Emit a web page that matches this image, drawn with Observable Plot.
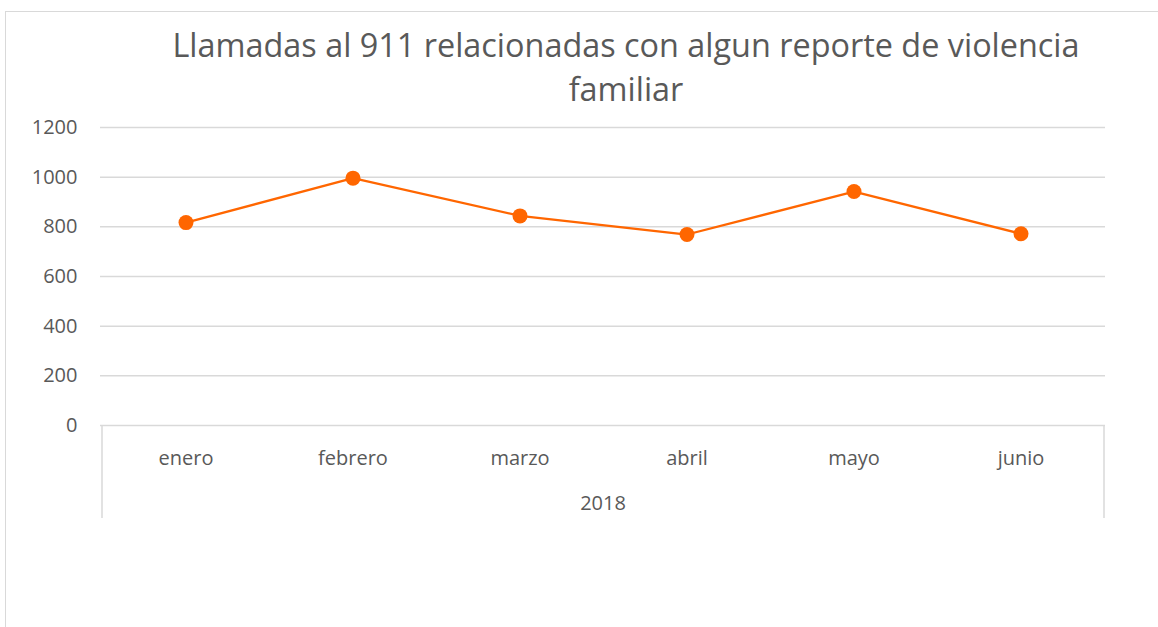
<!DOCTYPE html>
<html>
<head>
<meta charset="utf-8">
<script src="https://cdn.jsdelivr.net/npm/d3@7"></script>
<script src="https://cdn.jsdelivr.net/npm/@observablehq/plot@0.6"></script>
<style>
  html, body { margin: 0; padding: 0; background: #fff; }
  #wrap { position: relative; width: 1158px; height: 627px; overflow: hidden; font-family: "Open Sans", sans-serif; }
  #frame { position: absolute; left: 5px; top: 11px; width: 1200px; height: 700px; border-left: 1px solid #d9d9d9; border-top: 1px solid #d9d9d9; }
  #title { position: absolute; left: 94px; right: 0; top: 22px; text-align: center; font-size: 32.4px; line-height: 44px; color: #595959; font-weight: 400; white-space: nowrap; }
  #chart { position: absolute; left: 0; top: 110px; }
</style>
</head>
<body>
<div id="wrap">
  <div id="frame"></div>
  <div id="title">Llamadas al 911 relacionadas con algun reporte de violencia<br>familiar</div>
  <div id="chart"></div>
</div>
<script>
const months = ["enero", "febrero", "marzo", "abril", "mayo", "junio"];
const calls = [817, 996, 844, 769, 942, 772];
const yTicks = [0, 200, 400, 600, 800, 1000, 1200];
const yearLabel = "2018";

const data = months.map((m, i) => ({month: m, value: calls[i]}));
const orange = "#ff6600";
const grey = "#595959";
const fs = 20;

const plot = Plot.plot({
  width: 1158,
  height: 517,
  marginTop: 17,
  marginBottom: 202,
  marginLeft: 100,
  marginRight: 53,
  style: {fontFamily: "'Open Sans', sans-serif", fontSize: fs + "px", color: grey, background: "transparent"},
  x: {type: "band", domain: months, padding: 0, label: null},
  y: {domain: [0, 1200], label: null},
  marks: [
    Plot.ruleY(yTicks, {stroke: "#d9d9d9", strokeWidth: 1.5}),
    Plot.axisY({ticks: yTicks, tickFormat: d => String(d), tickSize: 0, tickPadding: 23, fontSize: fs, fill: grey, label: null}),
    Plot.axisX({tickSize: 0, tickPadding: 25, fontSize: fs, fill: grey, label: null}),
    Plot.line(data, {x: "month", y: "value", stroke: orange, strokeWidth: 2.25}),
    Plot.dot(data, {x: "month", y: "value", r: 7.5, fill: orange, stroke: "none"}),
    Plot.text([yearLabel], {frameAnchor: "bottom", dy: 84, fontSize: fs, fill: grey})
  ]
});

document.getElementById("chart").appendChild(plot);

// separator lines of the category axis, positioned from the x scale
const xs = plot.scale("x");
const ysc = plot.scale("y");
const y0 = ysc.apply(0);
const left = xs.apply(months[0]);
const right = xs.apply(months[months.length - 1]) + xs.bandwidth;
const svg = d3.select(plot);
[left, right].forEach(x => {
  svg.append("line")
    .attr("x1", x).attr("x2", x)
    .attr("y1", y0).attr("y2", y0 + 93)
    .attr("stroke", "#d9d9d9").attr("stroke-width", 1.5);
});
</script>
</body>
</html>
